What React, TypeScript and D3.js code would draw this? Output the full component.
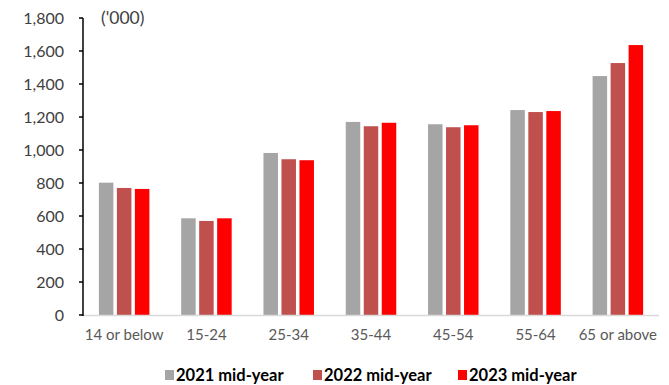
import React from "react";
import * as d3 from "d3";

// Population by age group ('000)
const categories = ["14 or below", "15-24", "25-34", "35-44", "45-54", "55-64", "65 or above"];
const seriesNames = ["2021 mid-year", "2022 mid-year", "2023 mid-year"];
const values2021 = [802, 586, 982, 1170, 1156, 1242, 1448];
const values2022 = [770, 570, 944, 1144, 1138, 1230, 1527];
const values2023 = [764, 586, 938, 1165, 1150, 1236, 1636];
const yTicks = [0, 200, 400, 600, 800, 1000, 1200, 1400, 1600, 1800];
const colors = ["#A5A5A5", "#C0504D", "#FF0000"];

const W = 669;
const H = 385;
const FONT = "Lato, 'Open Sans', sans-serif";

export default function App() {
  const series = [values2021, values2022, values2023];
  const y = d3.scaleLinear().domain([0, 1800]).range([315, 18]);
  const x0 = d3.scaleBand<string>().domain(categories).range([83, 659]);
  const groupW = 50.5;
  const x1 = d3
    .scaleBand<string>()
    .domain(seriesNames)
    .range([0, groupW])
    .paddingInner(0.194);
  const fmt = d3.format(",");

  const legendX = [165, 313, 458];

  return (
    <svg
      width={W}
      height={H}
      style={{ position: "absolute", left: 0, top: 0, background: "#fff" }}
      fontFamily={FONT}
    >
      {/* bars */}
      {categories.map((c, i) => {
        const cx = (x0(c) as number) + x0.bandwidth() / 2;
        const start = cx - groupW / 2;
        return (
          <g key={c}>
            {seriesNames.map((s, j) => (
              <rect
                key={s}
                x={start + (x1(s) as number)}
                y={y(series[j][i])}
                width={x1.bandwidth()}
                height={y(0) - y(series[j][i])}
                fill={colors[j]}
              />
            ))}
          </g>
        );
      })}

      {/* x axis baseline */}
      <line x1={83} x2={659} y1={y(0) + 0.5} y2={y(0) + 0.5} stroke="#D9D9D9" strokeWidth={1.5} />

      {/* y axis */}
      <line x1={83} x2={83} y1={y(1800)} y2={y(0) + 1} stroke="#000" strokeWidth={1.5} />
      {yTicks.map((t) => (
        <g key={t}>
          <line x1={79} x2={83} y1={y(t)} y2={y(t)} stroke="#000" strokeWidth={1.5} />
          <text
            x={64}
            y={y(t)}
            dy="0.35em"
            textAnchor="end"
            fontSize={16}
            fill="#404040"
          >
            {fmt(t)}
          </text>
        </g>
      ))}
      <text x={101} y={y(1800)} dy="0.35em" fontSize={17.5} fill="#404040">
        ('000)
      </text>

      {/* category labels */}
      {categories.map((c) => (
        <text
          key={c}
          x={(x0(c) as number) + x0.bandwidth() / 2}
          y={340}
          textAnchor="middle"
          fontSize={15}
          fill="#595959"
        >
          {c}
        </text>
      ))}

      {/* legend */}
      {seriesNames.map((s, j) => (
        <g key={s}>
          <rect x={legendX[j]} y={370} width={9} height={10} fill={colors[j]} />
          <text x={legendX[j] + 11} y={375} dy="0.36em" fontSize={16.5} fontWeight="bold" fill="#000">
            {s}
          </text>
        </g>
      ))}
    </svg>
  );
}
